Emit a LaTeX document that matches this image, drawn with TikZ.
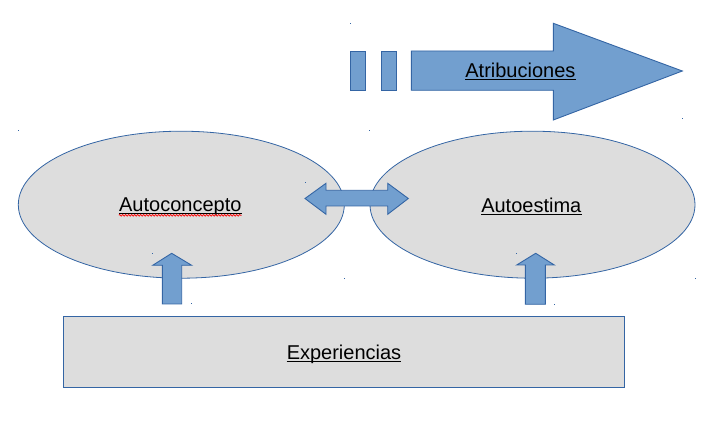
\documentclass[tikz,border=0pt]{standalone}
\usepackage{fontspec}
\setmainfont{Liberation Sans}
\usetikzlibrary{decorations.pathmorphing,shapes.geometric}
\definecolor{lblue}{HTML}{729FCF}
\definecolor{dblue}{HTML}{3465A4}
\definecolor{lgray}{HTML}{DDDDDD}
\tikzset{
  blockarrow/.style={fill=lblue, draw=dblue, line width=0.9pt, line join=miter},
  bubble/.style={fill=lgray, draw=dblue, line width=0.8pt},
  labeltext/.style={inner sep=0pt, anchor=base, font=\fontsize{20}{24}\selectfont, text=black},
  uline/.style={black, line width=1pt},
  handle/.style={fill=dblue, draw=none},
}
\begin{document}
\begin{tikzpicture}[x=1pt,y=-1pt]
\useasboundingbox (0,0) rectangle (720,438);
% ellipses
\node[bubble, ellipse, minimum width=326pt, minimum height=147pt, inner sep=0pt] (ac) at (181.3,204.7) {};
\node[bubble, ellipse, minimum width=325pt, minimum height=147pt, inner sep=0pt] (ae) at (532.5,204.7) {};
% rectangle
\node[bubble, rectangle, minimum width=561pt, minimum height=71pt, inner sep=0pt] (ex) at (343.8,351.7) {};
% Atribuciones striped arrow
\draw[blockarrow] (350.3,51) rectangle (365.7,90.3);
\draw[blockarrow] (381.3,51) rectangle (396.7,90.3);
\draw[blockarrow] (411.3,51) -- (553.3,51) -- (553.3,23.3) -- (682.3,71) -- (553.3,120) -- (553.3,90.3) -- (411.3,90.3) -- cycle;
% double arrow
\draw[blockarrow] (305,198.5) -- (326,183.3) -- (326,190.3) -- (387.7,190.3) -- (387.7,183.3) -- (408.3,198.5) -- (387.7,214.3) -- (387.7,206) -- (326,206) -- (326,214.3) -- cycle;
% up arrows
\draw[blockarrow] (171.7,253.3) -- (191.7,265.3) -- (181.7,265.3) -- (181.7,304) -- (162.3,304) -- (162.3,265.3) -- (152.7,265.3) -- cycle;
\draw[blockarrow] (535.7,253.3) -- (554.3,265) -- (545.3,265) -- (545.3,304.3) -- (525.3,304.3) -- (525.3,265) -- (516.7,265) -- cycle;
% texts
\node[labeltext] (t1) at (520.4,77.7) {Atribuciones};
\node[labeltext] (t2) at (180.3,211.7) {Autoconcepto};
\node[labeltext] (t3) at (531.3,212.3) {Autoestima};
\node[labeltext] (t4) at (344,359) {Experiencias};
\foreach \t in {t1,t2,t3,t4}{
  \draw[uline] ([yshift=-2.2pt]\t.base west) -- ([yshift=-2.2pt]\t.base east);
}
\draw[red, line width=0.7pt, decorate, decoration={zigzag, segment length=3pt, amplitude=0.9pt}]
  ([yshift=-3.6pt]t2.base west) -- ([yshift=-3.6pt]t2.base east);
% small handle dots
\foreach \p in {(350.3,23.3),(682,119),(369.3,131),(18.3,131),(305,183),(152.7,253.3),(344.3,278.3),(191.3,304),(516.3,253.3),(695.3,278.3),(554.3,304.3)}{
  \fill[handle] \p +(-0.5,-0.5) rectangle +(0.5,0.5);
}
\end{tikzpicture}
\end{document}
